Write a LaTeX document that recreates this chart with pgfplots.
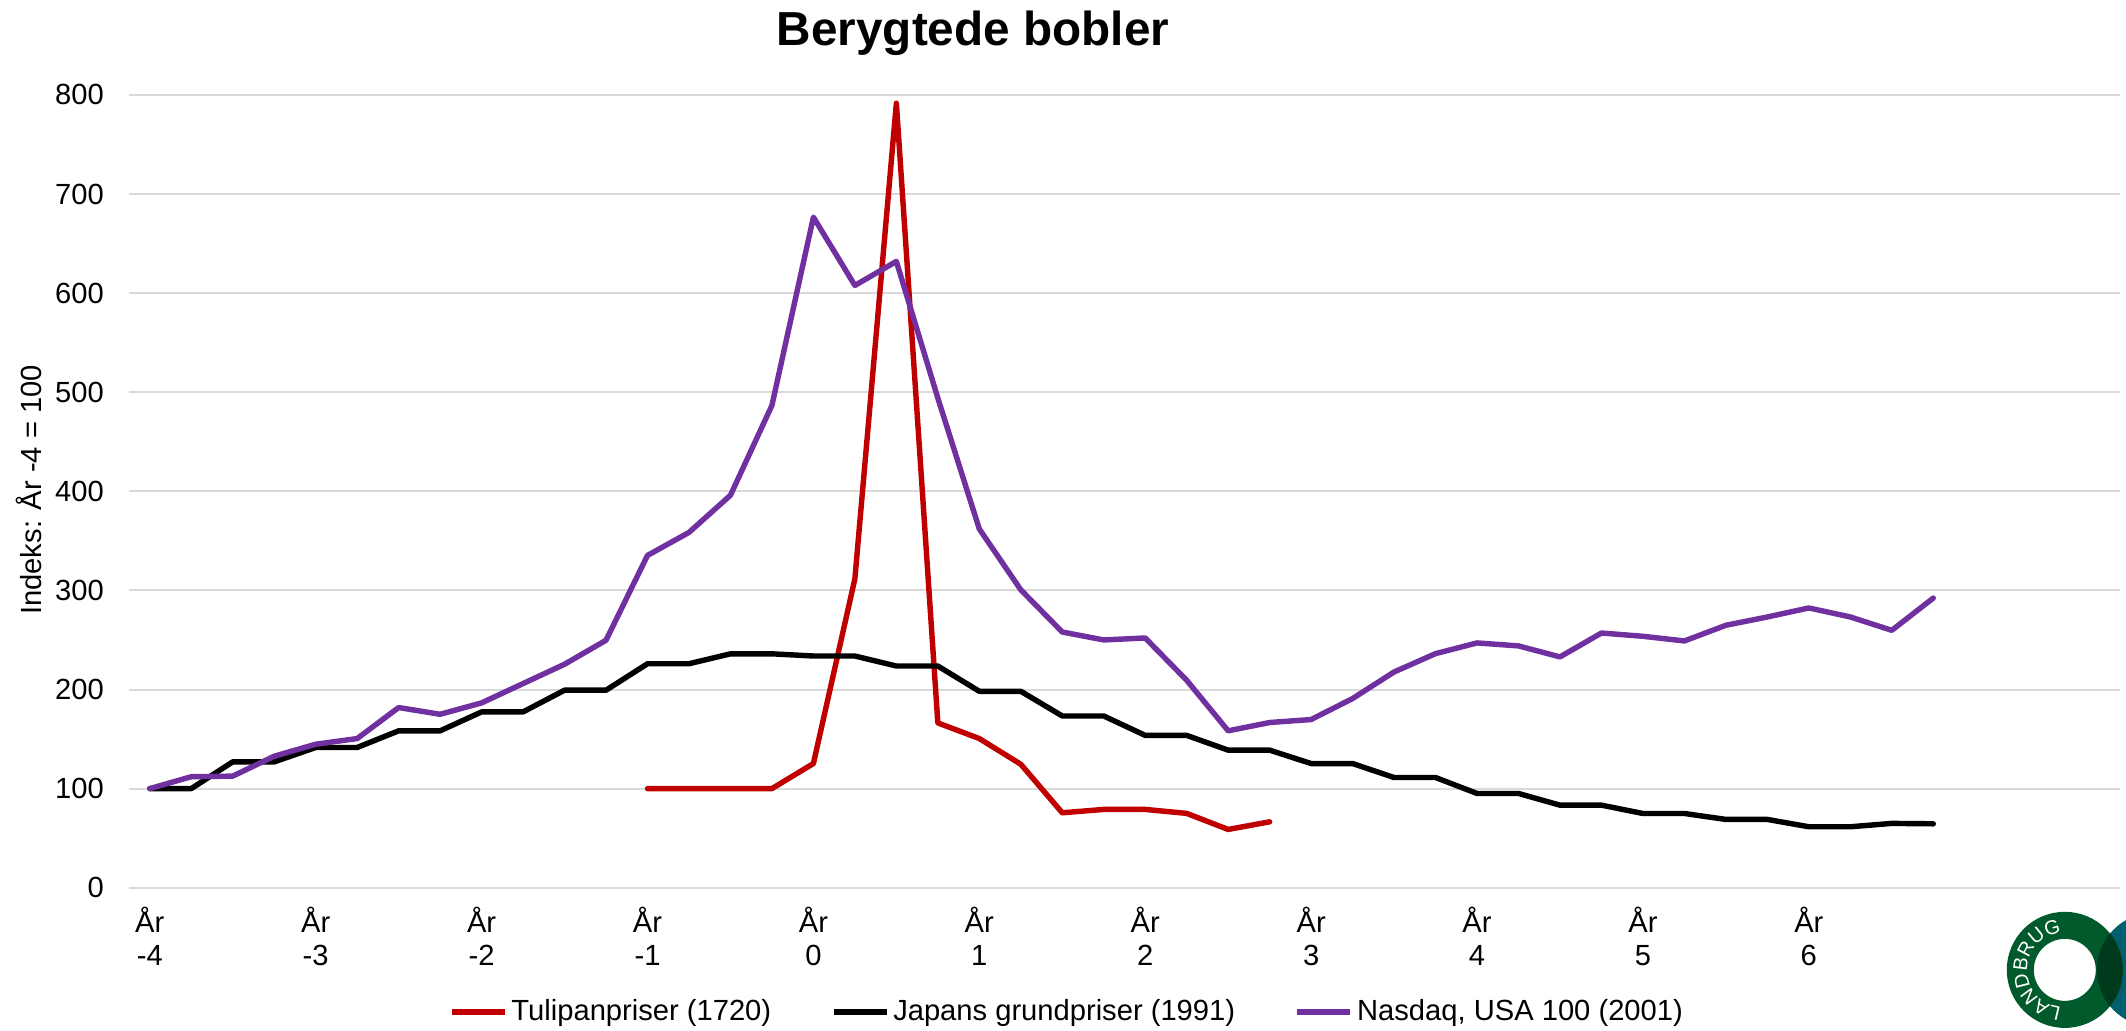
\documentclass[border=0pt]{standalone}
\usepackage{pgfplots}
\pgfplotsset{compat=1.18}
\usepackage{fontspec}
\setmainfont{Liberation Sans}
\usetikzlibrary{decorations.text}
\definecolor{tulip}{HTML}{C00000}
\definecolor{nasdaq}{HTML}{7030A0}
\definecolor{gridgray}{HTML}{D9D9D9}
\definecolor{lgreen}{HTML}{005A2B}
\definecolor{lteal}{HTML}{006070}
\definecolor{ldark}{HTML}{003A1C}
\begin{document}
\begin{tikzpicture}
\useasboundingbox (0,0) rectangle (802.3pt,388.7pt);
\begin{axis}[
  at={(48.7pt,53.7pt)}, anchor=south west,
  scale only axis, width=751.3pt, height=299.2pt,
  xmin=-0.5, xmax=47.5, ymin=0, ymax=800,
  clip=false,
  axis line style={draw=none},
  major tick length=0pt,
  tick style={draw=none},
  ytick={0,100,...,800},
  ymajorgrids,
  grid style={draw=gridgray, line width=0.75pt},
  xtick={0,4,...,40},
  xticklabels={{År\\-4},{År\\-3},{År\\-2},{År\\-1},{År\\0},{År\\1},{År\\2},{År\\3},{År\\4},{År\\5},{År\\6}},
  xticklabel style={align=center, font=\fontsize{11}{12.5}\selectfont, yshift=-3.8pt},
  yticklabel style={font=\fontsize{11}{13}\selectfont, xshift=-6pt},
  /pgf/number format/assume math mode=true,
  legend columns=3,
  legend style={at={(0.4716,-0.1567)}, anchor=center, draw=none, fill=none,
    font=\fontsize{11}{13}\selectfont,
    nodes={inner xsep=1.5pt, inner ysep=1pt},
    /tikz/every even column/.append style={column sep=21pt}},
  legend image code/.code={\draw[#1, line cap=butt] (0pt,0pt) -- (20pt,0pt);},
  every axis plot/.append style={line width=2.05pt, line cap=round, line join=round, mark=none},
]
\addplot[tulip] coordinates {
(12,100) (13,100) (14,100) (15,100) (16,125.3) (17,311.7) (18,791.6) (19,166.3)
(20,150.5) (21,124.6) (22,75.6) (23,79) (24,79) (25,75) (26,58.8) (27,66.5)
};
\addlegendentry{Tulipanpriser (1720)}
\addplot[black] coordinates {
(0,100) (1,100) (2,127) (3,127) (4,141.5) (5,141.5) (6,158.3) (7,158.3)
(8,177.4) (9,177.4) (10,199.3) (11,199.3) (12,226) (13,226) (14,236) (15,236)
(16,233.8) (17,233.8) (18,223.7) (19,223.7) (20,198.2) (21,198.2) (22,173.3) (23,173.3)
(24,153.7) (25,153.7) (26,138.8) (27,138.8) (28,125.3) (29,125.3) (30,111.2) (31,111.2)
(32,95.1) (33,95.1) (34,83.3) (35,83.3) (36,74.9) (37,74.9) (38,68.9) (39,68.9)
(40,61.5) (41,61.5) (42,64.9) (43,64.5)
};
\addlegendentry{Japans grundpriser (1991)}
\addplot[nasdaq] coordinates {
(0,100) (1,112) (2,112.6) (3,132.7) (4,144.8) (5,150.5) (6,181.8) (7,175)
(8,186.5) (9,206) (10,225.5) (11,249.7) (12,335.3) (13,358.5) (14,396) (15,486.7)
(16,676.6) (17,607.7) (18,632) (19,494) (20,362) (21,300.6) (22,258) (23,250)
(24,252) (25,209.3) (26,158.3) (27,166.7) (28,169.7) (29,190.9) (30,217.7) (31,236.2)
(32,247) (33,244) (34,232.9) (35,257) (36,253.7) (37,249) (38,264.8) (39,273.2)
(40,282.3) (41,273.2) (42,259.7) (43,292.3)
};
\addlegendentry{Nasdaq, USA 100 (2001)}
\end{axis}
% title and y label
\node[anchor=base, font=\fontsize{18}{21.6}\selectfont\bfseries] at (367.2pt,371.7pt) {Berygtede bobler};
\node[rotate=90, anchor=center, font=\fontsize{11}{13}\selectfont] at (11pt,203.8pt) {Indeks: År -4 = 100};
% logo
\fill[lteal] (812.8pt,22.7pt) circle[radius=21.5pt];
\fill[lgreen, even odd rule] (779.2pt,22.7pt) circle[radius=21.9pt] (779.2pt,22.7pt) circle[radius=11.7pt];
\begin{scope}
\clip (812.8pt,22.7pt) circle[radius=21.5pt];
\fill[ldark, even odd rule] (779.2pt,22.7pt) circle[radius=21.9pt] (779.2pt,22.7pt) circle[radius=11.7pt];
\end{scope}
\path[decorate, decoration={text along path, text color=white, text align=fit to path,
  text={|\fontsize{7.5}{7.5}\selectfont|LANDBRUG}}]
  (779.2pt,22.7pt) ++(-95:14.2pt) arc[start angle=-95, end angle=-265, radius=14.2pt];
\end{tikzpicture}
\end{document}
